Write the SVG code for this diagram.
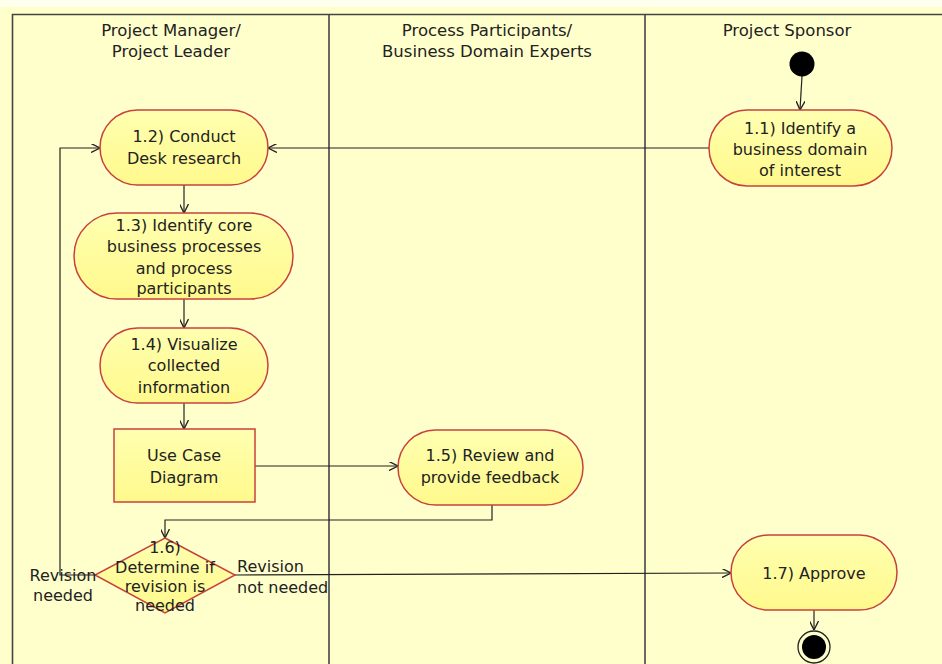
<svg xmlns="http://www.w3.org/2000/svg" width="942" height="664" viewBox="0 0 942 664">
<defs>
<linearGradient id="nodeFill" x1="0" y1="0" x2="0" y2="1">
<stop offset="0" stop-color="#FFFFB0"/>
<stop offset="1" stop-color="#FFF98C"/>
</linearGradient>
<marker id="arrow" viewBox="0 0 10 10" refX="10" refY="5" markerWidth="9" markerHeight="9" markerUnits="userSpaceOnUse" orient="auto">
<path d="M0,0 L10,5 L0,10" fill="none" stroke="#222" stroke-width="1.5"/>
</marker>
</defs>
<style>
text{font-family:"DejaVu Sans",Verdana,sans-serif;font-size:16px;fill:#222;text-anchor:middle}
.hdr{font-size:16.5px}
.lane{stroke:#444;stroke-width:1.6;fill:none}
.node{fill:url(#nodeFill);stroke:#C8413F;stroke-width:1.5}
.conn{fill:none;stroke:#222;stroke-width:1.2}
.lbl{text-anchor:start}
</style>
<rect x="0" y="0" width="942" height="664" fill="#FFFFCC"/>
<rect x="0" y="0" width="942" height="7" fill="#FFFFEE"/>
<g id="swimlanes">
<path class="lane" d="M12.5,664 V14.5 H942"/>
<line class="lane" x1="329" y1="14" x2="329" y2="664"/>
<line class="lane" x1="645" y1="14" x2="645" y2="664"/>
<text class="hdr" x="171" y="36">Project Manager/</text>
<text class="hdr" x="171" y="57">Project Leader</text>
<text class="hdr" x="487" y="36">Process Participants/</text>
<text class="hdr" x="487" y="57">Business Domain Experts</text>
<text class="hdr" x="787" y="36">Project Sponsor</text>
</g>
<g id="connectors">
<line class="conn" x1="802" y1="76" x2="800" y2="110" marker-end="url(#arrow)"/>
<line class="conn" x1="709" y1="148" x2="268" y2="148" marker-end="url(#arrow)"/>
<line class="conn" x1="184" y1="185" x2="184" y2="213" marker-end="url(#arrow)"/>
<line class="conn" x1="184" y1="299" x2="184" y2="328" marker-end="url(#arrow)"/>
<line class="conn" x1="184" y1="403" x2="184" y2="429" marker-end="url(#arrow)"/>
<line class="conn" x1="255" y1="466" x2="398" y2="466" marker-end="url(#arrow)"/>
<polyline class="conn" points="492,505 492,520 165,520 165,538" marker-end="url(#arrow)"/>
<polyline class="conn" points="95,575 60,575 60,148 100,148" marker-end="url(#arrow)"/>
<line class="conn" x1="235" y1="575" x2="731" y2="573" marker-end="url(#arrow)"/>
<line class="conn" x1="814" y1="610" x2="814" y2="630" marker-end="url(#arrow)"/>
</g>
<g id="start">
<circle cx="802" cy="64" r="12.5" fill="#000"/>
</g>
<g id="n1_1">
<rect class="node" x="709" y="110" width="183" height="76" rx="38"/>
<text x="800" y="134">1.1) Identify a</text>
<text x="800" y="155">business domain</text>
<text x="800" y="176">of interest</text>
</g>
<g id="n1_2">
<rect class="node" x="100" y="110" width="168" height="75" rx="37.5"/>
<text x="184" y="142">1.2) Conduct</text>
<text x="184" y="164">Desk research</text>
</g>
<g id="n1_3">
<rect class="node" x="74" y="213" width="219" height="86" rx="43"/>
<text x="184" y="231">1.3) Identify core</text>
<text x="184" y="252">business processes</text>
<text x="184" y="274">and process</text>
<text x="184" y="294">participants</text>
</g>
<g id="n1_4">
<rect class="node" x="100" y="328" width="168" height="75" rx="37.5"/>
<text x="184" y="350">1.4) Visualize</text>
<text x="184" y="371">collected</text>
<text x="184" y="393">information</text>
</g>
<g id="usecase">
<rect class="node" x="114" y="429" width="141" height="73" fill="#FFFF99"/>
<text x="184" y="461">Use Case</text>
<text x="184" y="483">Diagram</text>
</g>
<g id="n1_5">
<rect class="node" x="398" y="430" width="185" height="75" rx="37.5"/>
<text x="490" y="461">1.5) Review and</text>
<text x="490" y="483">provide feedback</text>
</g>
<g id="n1_6">
<polygon class="node" points="165,538 235,575 165,613 95,575"/>
<text x="165" y="553">1.6)</text>
<text x="165" y="573">Determine if</text>
<text x="165" y="592">revision is</text>
<text x="165" y="611">needed</text>
</g>
<g id="guards">
<text x="63" y="581">Revision</text>
<text x="63" y="601">needed</text>
<text class="lbl" x="237" y="572">Revision</text>
<text class="lbl" x="237" y="593">not needed</text>
</g>
<g id="n1_7">
<rect class="node" x="731" y="535" width="166" height="75" rx="37.5"/>
<text x="814" y="579">1.7) Approve</text>
</g>
<g id="end">
<circle cx="814" cy="647" r="16" fill="none" stroke="#222" stroke-width="1.3"/>
<circle cx="814" cy="647" r="12" fill="#000"/>
</g>
</svg>
